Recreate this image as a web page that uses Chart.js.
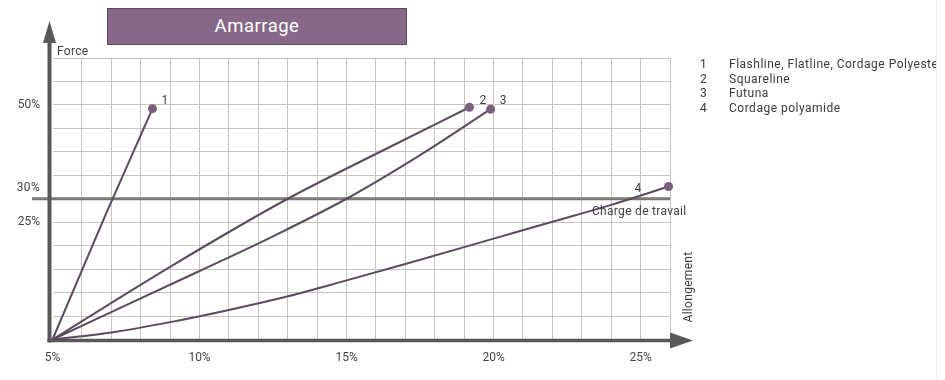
<!DOCTYPE html>
<html><head><meta charset="utf-8">
<script src="https://cdn.jsdelivr.net/npm/chart.js@4.4.0/dist/chart.umd.min.js"></script>
<style>
html,body{margin:0;padding:0;background:#fff;width:945px;height:380px;overflow:hidden;font-family:Roboto,"DejaVu Sans",sans-serif;}
#wrap{position:relative;width:945px;height:380px;}
#c{position:absolute;left:0;top:0;}
#title{position:absolute;left:107px;top:8px;width:298px;height:35px;background:#876888;border:1px solid #5e4a60;color:#fff;font-size:18.5px;line-height:35px;text-align:center;letter-spacing:0.5px;}
#legend{position:absolute;left:700px;top:57px;width:236px;overflow:hidden;white-space:nowrap;font-size:12px;color:#3a3a3a;line-height:14.7px;letter-spacing:0.5px;}
#legend .n{display:inline-block;width:29px;}
#edge{position:absolute;left:936px;top:0;width:1px;height:380px;background:#ececec;}
</style></head>
<body><div id="wrap"><canvas id="c" width="945" height="380"></canvas><div id="title">Amarrage</div><div id="legend"></div><div id="edge"></div></div>
<script>
// ---- data ----
const seriesNumbers = ['1', '2', '3', '4'];
const seriesNames = ['Flashline, Flatline, Cordage Polyester', 'Squareline', 'Futuna', 'Cordage polyamide'];

const s1x = [5, 6.8, 8.4];
const s1y = [0, 26.5, 49.2];
const s2x = [5, 9, 13, 16.3, 19.18];
const s2y = [0, 15.5, 30, 40.5, 49.5];
const s3x = [5, 10, 12.5, 15, 17.5, 19.9];
const s3y = [0, 14.6, 22, 30, 39.3, 49.1];
const s4x = [5, 7, 9, 11, 13, 15, 17, 20, 22, 24, 25.95];
const s4y = [0, 1.5, 3.7, 6.3, 9.2, 12.6, 16.1, 21.5, 25.1, 28.7, 32.6];

const xMin = 5, xMax = 26, xStep = 1;
const yMin = 0, yMax = 60, yStep = 5;
const xTickLabelValues = [5, 10, 15, 20, 25];
const yTickLabelValues = [25, 50];
const workLoadValue = 30;
const workLoadTickLabel = '30%';
const workLoadLabel = 'Charge de travail';
const xAxisTitle = 'Allongement';
const yAxisTitle = 'Force';

// ---- legend (HTML) ----
const leg = document.getElementById('legend');
seriesNames.forEach((n, i) => {
  const d = document.createElement('div');
  const a = document.createElement('span'); a.className = 'n'; a.textContent = seriesNumbers[i];
  const b = document.createElement('span'); b.textContent = n;
  d.appendChild(a); d.appendChild(b); leg.appendChild(d);
});

const LINE = '#5c4a5f';
const MARK = '#7b5f7f';
const GRID = '#c7c4be';
const AXIS = '#58585a';
const TXT = '#3f3f3f';
const FONT = 'Roboto, "DejaVu Sans", sans-serif';

function toPts(xs, ys) { return xs.map((x, i) => ({ x: x, y: ys[i] })); }
function mk(xs, ys, tension) {
  return {
    data: toPts(xs, ys),
    borderColor: LINE, borderWidth: 2,
    backgroundColor: MARK,
    pointBackgroundColor: MARK, pointBorderColor: MARK, pointBorderWidth: 0,
    pointRadius: c => c.dataIndex === c.dataset.data.length - 1 ? 4.5 : 0,
    pointHoverRadius: 0,
    cubicInterpolationMode: tension ? 'monotone' : 'default',
    tension: 0, fill: false, clip: false
  };
}

const decor = {
  id: 'decor',
  beforeDatasetsDraw(chart) {
    const { ctx, chartArea: a, scales: { x, y } } = chart;
    ctx.save();
    const wy = y.getPixelForValue(workLoadValue);
    ctx.strokeStyle = '#7a7873'; ctx.lineWidth = 3.2;
    ctx.beginPath(); ctx.moveTo(32, wy); ctx.lineTo(a.right, wy); ctx.stroke();
    const ax = a.left - 3;
    const by = a.bottom + 1;
    ctx.fillStyle = AXIS; ctx.strokeStyle = AXIS;
    ctx.lineWidth = 4;
    ctx.beginPath(); ctx.moveTo(ax, by + 2); ctx.lineTo(ax, 40); ctx.stroke();
    ctx.beginPath(); ctx.moveTo(ax - 6.5, 43); ctx.lineTo(ax + 6.5, 43); ctx.lineTo(ax, 21); ctx.closePath(); ctx.fill();
    ctx.lineWidth = 3.5;
    ctx.beginPath(); ctx.moveTo(ax - 2, by); ctx.lineTo(a.right + 2, by); ctx.stroke();
    ctx.beginPath(); ctx.moveTo(a.right, by - 8); ctx.lineTo(a.right, by + 8); ctx.lineTo(a.right + 23, by); ctx.closePath(); ctx.fill();
    ctx.restore();
  },
  afterDatasetsDraw(chart) {
    const { ctx, chartArea: a, scales: { x, y } } = chart;
    ctx.save();
    ctx.fillStyle = TXT;
    ctx.font = '12px ' + FONT;
    try { ctx.letterSpacing = '0.3px'; } catch (e) {}
    ctx.textBaseline = 'middle';
    const offs = [[9, -8], [10, -6], [9, -8], [-34, 2]];
    chart.data.datasets.forEach((ds, i) => {
      const meta = chart.getDatasetMeta(i);
      const p = meta.data[meta.data.length - 1];
      ctx.textAlign = 'left';
      ctx.fillText(seriesNumbers[i], p.x + offs[i][0], p.y + offs[i][1]);
    });
    const wy = y.getPixelForValue(workLoadValue);
    ctx.textAlign = 'left';
    ctx.fillText(workLoadLabel, 592, wy + 13);
    ctx.textAlign = 'right';
    ctx.fillStyle = '#444';
    ctx.fillText(workLoadTickLabel, 40, wy - 11);
    ctx.fillStyle = TXT;
    ctx.textAlign = 'left';
    ctx.fillText(yAxisTitle, 57, 52);
    ctx.translate(689, 287); ctx.rotate(-Math.PI / 2);
    ctx.textAlign = 'center';
    ctx.fillText(xAxisTitle, 0, 0);
    ctx.restore();
  }
};

new Chart(document.getElementById('c'), {
  type: 'line',
  data: { datasets: [mk(s1x, s1y, false), mk(s2x, s2y, true), mk(s3x, s3y, true), mk(s4x, s4y, true)] },
  options: {
    responsive: false, animation: false, devicePixelRatio: 1,
    layout: { padding: { top: 58, right: 275, left: 0, bottom: 0 } },
    plugins: { legend: { display: false }, tooltip: { enabled: false }, title: { display: false } },
    events: [],
    scales: {
      x: {
        type: 'linear', min: xMin, max: xMax,
        afterBuildTicks: s => { const t = []; for (let v = xMin; v <= xMax; v += xStep) t.push({ value: v }); s.ticks = t; },
        afterFit: s => { s.height = 40.5; },
        border: { display: false },
        grid: { color: c => (c.tick && c.tick.value === xMin) ? 'rgba(0,0,0,0)' : GRID, lineWidth: 1, drawTicks: false },
        ticks: { autoSkip: false, maxRotation: 0, padding: 11, color: '#444', font: { family: FONT, size: 12 },
          callback: v => xTickLabelValues.includes(v) ? v + '%' : '' }
      },
      y: {
        type: 'linear', min: yMin, max: yMax,
        afterBuildTicks: s => { const t = []; for (let v = yMin; v <= yMax; v += yStep) t.push({ value: v }); s.ticks = t; },
        afterFit: s => { s.width = 52.5; },
        border: { display: false },
        grid: { color: c => (c.tick && (c.tick.value === yMin)) ? 'rgba(0,0,0,0)' : GRID, lineWidth: 1, drawTicks: false },
        ticks: { autoSkip: false, padding: 12.5, color: '#444', font: { family: FONT, size: 12 },
          callback: v => yTickLabelValues.includes(v) ? v + '%' : '' }
      }
    }
  },
  plugins: [decor]
});
</script>
</body></html>
